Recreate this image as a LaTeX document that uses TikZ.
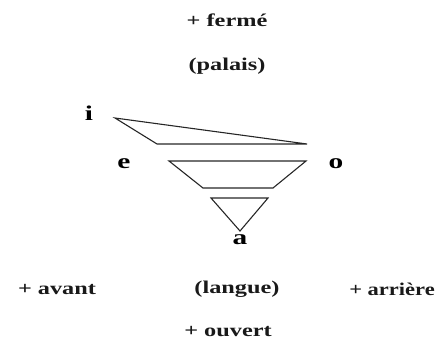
\documentclass[tikz,border=0pt]{standalone}
\usepackage{fontspec}
\usepackage{graphicx}
\setmainfont{Liberation Serif}
\newcommand{\wideTxt}[2][1.35]{\scalebox{#1}[1]{#2}}
\tikzset{
  lbl/.style={inner sep=0pt, font=\fontsize{18}{20}\selectfont\bfseries, text=black!90},
  vow/.style={inner sep=0pt, font=\fontsize{21}{23}\selectfont\bfseries, text=black},
  shp/.style={draw=black!85, line width=1.1pt, line join=miter}
}
\begin{document}
\begin{tikzpicture}[x=1pt,y=-1pt]
\useasboundingbox (0,0) rectangle (443,345);
% labels
\node[lbl] (ferme) at (227,20) {\wideTxt{+ fermé}};
\node[lbl] (palais) at (227,66) {\wideTxt{(palais)}};
\node[lbl] (avant) at (57,289) {\wideTxt{+ avant}};
\node[lbl] (langue) at (237,289) {\wideTxt{(langue)}};
\node[lbl] (arriere) at (392,289) {\wideTxt[1.25]{+ arrière}};
\node[lbl] (ouvert) at (228,332) {\wideTxt{+ ouvert}};
% vowels
\node[vow] (i) at (89,113) {\wideTxt[1.4]{i}};
\node[vow] (e) at (124,164) {\wideTxt[1.4]{e}};
\node[vow] (o) at (336,164) {\wideTxt[1.4]{o}};
\node[vow] (a) at (240,240) {\wideTxt[1.4]{a}};
% shapes
\draw[shp] (115,118) -- (307,144) -- (157,144) -- cycle;
\draw[shp] (169,161) -- (306,161) -- (273,188) -- (203,188) -- cycle;
\draw[shp] (211,198) -- (268,198) -- (240,231) -- cycle;
\end{tikzpicture}
\end{document}
